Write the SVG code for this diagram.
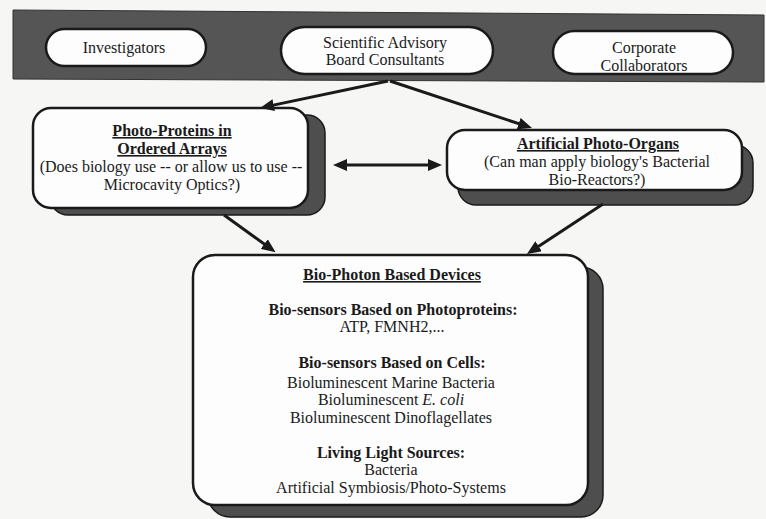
<svg xmlns="http://www.w3.org/2000/svg" width="766" height="519" viewBox="0 0 766 519">
<style>
  text { font-family: "Liberation Serif", "Times New Roman", serif; font-size: 16px; fill: #1a1a1a; text-anchor: middle; }
  .b { font-weight: bold; }
  .u { text-decoration: underline; }
  .oval { fill: #fdfdfd; stroke: #1a1a1a; stroke-width: 2.5; }
  .box { fill: #fdfdfd; stroke: #1a1a1a; stroke-width: 2.5; }
  .shadow { fill: #4e4e4e; stroke: #1a1a1a; stroke-width: 1.5; }
  .band { fill: #555555; stroke: #333; stroke-width: 1; }
  .conn { stroke: #1a1a1a; stroke-width: 3; fill: none; marker-end: url(#ah); }
</style>
<defs>
  <marker id="ah" viewBox="0 0 14 12" refX="4" refY="6" markerWidth="14" markerHeight="12" markerUnits="userSpaceOnUse" orient="auto-start-reverse">
    <path d="M0,0 L14,6 L0,12 z" fill="#1a1a1a"/>
  </marker>
</defs>
<rect width="766" height="519" fill="#f6f6f4"/>

<polygon class="band" points="13,10 764,15 764,82 13,79"/>

<g id="investigators">
  <rect class="oval" x="46" y="29" width="160" height="37" rx="18.5"/>
  <text x="124" y="53">Investigators</text>
</g>
<g id="scientific-advisory">
  <rect class="oval" x="281" y="27" width="212" height="47" rx="23.5"/>
  <text x="385" y="48">Scientific Advisory</text>
  <text x="385" y="65">Board Consultants</text>
</g>
<g id="corporate-collaborators">
  <rect class="oval" x="553" y="31" width="180" height="43" rx="21.5"/>
  <text x="644" y="53">Corporate</text>
  <text x="644" y="71">Collaborators</text>
</g>

<g id="photo-proteins">
  <rect class="shadow" x="50" y="115" width="275" height="100" rx="18"/>
  <rect class="box" x="33" y="108" width="275" height="100" rx="18"/>
  <text class="b u" x="172" y="136">Photo-Proteins in</text>
  <text class="b u" x="172" y="154">Ordered Arrays</text>
  <text x="171" y="172">(Does biology use -- or allow us to use --</text>
  <text x="172" y="190">Microcavity Optics?)</text>
</g>

<g id="artificial-photo-organs">
  <rect class="shadow" x="458" y="145" width="295" height="60" rx="18"/>
  <rect class="box" x="447" y="130" width="295" height="60" rx="18"/>
  <text class="b u" x="598" y="149">Artificial Photo-Organs</text>
  <text x="597" y="167">(Can man apply biology's Bacterial</text>
  <text x="597" y="185">Bio-Reactors?)</text>
</g>

<g id="bio-photon-devices">
  <rect class="shadow" x="208" y="267" width="395" height="250" rx="22"/>
  <rect class="box" x="193" y="255" width="395" height="250" rx="22"/>
  <text class="b u" x="392" y="280">Bio-Photon Based Devices</text>
  <text class="b" x="393" y="315">Bio-sensors Based on Photoproteins:</text>
  <text x="392" y="332">ATP, FMNH2,...</text>
  <text class="b" x="392" y="368">Bio-sensors Based on Cells:</text>
  <text x="391" y="388">Bioluminescent Marine Bacteria</text>
  <text x="391" y="405">Bioluminescent <tspan font-style="italic">E. coli</tspan></text>
  <text x="391" y="423">Bioluminescent Dinoflagellates</text>
  <text class="b" x="391" y="458">Living Light Sources:</text>
  <text x="391" y="475">Bacteria</text>
  <text x="391" y="493">Artificial Symbiosis/Photo-Systems</text>
</g>

<g id="connectors">
  <line class="conn" x1="388" y1="81" x2="269.8" y2="105.9"/>
  <line class="conn" x1="390" y1="81" x2="522.5" y2="124.9"/>
  <line class="conn" x1="224" y1="215" x2="267.5" y2="246.4"/>
  <line class="conn" x1="603" y1="204" x2="535.3" y2="248.4"/>
  <line class="conn" x1="343" y1="165" x2="432" y2="165" marker-start="url(#ah)"/>
</g>
</svg>
